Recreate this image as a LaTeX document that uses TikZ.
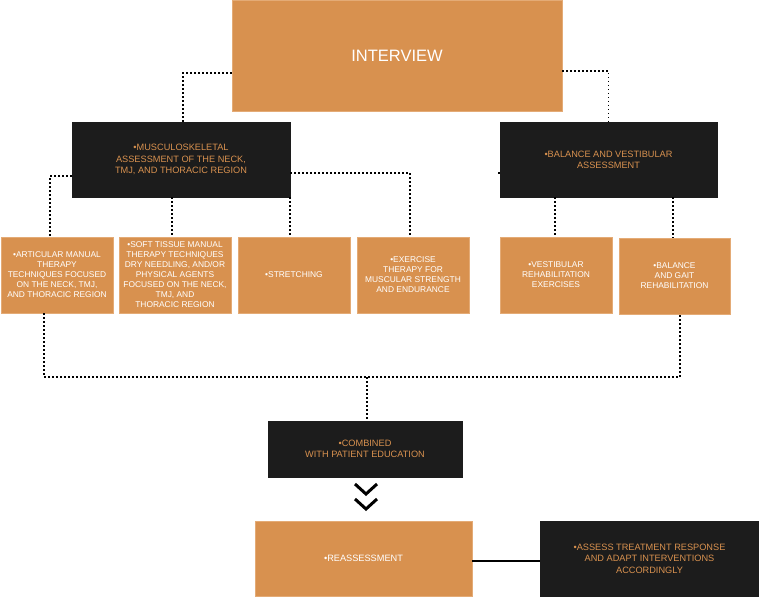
\documentclass[tikz,border=0pt]{standalone}
\usepackage{fontspec}
\setmainfont{Liberation Sans}
\definecolor{orng}{HTML}{D8914F}
\definecolor{orngline}{HTML}{E4AB76}
\definecolor{dark}{HTML}{1C1C1C}
\tikzset{
  obox/.style={rectangle, fill=orng, draw=orngline, line width=0.6pt, text=white, align=center, inner sep=0pt},
  kbox/.style={rectangle, fill=dark, draw=dark, text=orng, align=center, inner sep=0pt},
  rowfont/.style={font=\fontsize{8.4}{10}\selectfont},
  midfont/.style={font=\fontsize{9.2}{11.5}\selectfont},
  dotline/.style={draw=black, line width=1.7pt, dash pattern=on 1.6pt off 2.4pt},
  solidline/.style={draw=black, line width=1.8pt},
  chevron/.style={draw=black, line width=3pt, miter limit=10},
}
\begin{document}
\begin{tikzpicture}[x=1pt, y=-1pt]
\useasboundingbox (0,0) rectangle (759,597);
% top
\node[obox, minimum width=330pt, minimum height=111pt, font=\fontsize{16.5}{18}\selectfont] (interview) at (397,55.5) {INTERVIEW};
% assessments
\node[kbox, midfont, minimum width=218pt, minimum height=75pt] (musc) at (181,159.5) {•MUSCULOSKELETAL\\ASSESSMENT OF THE NECK,\\TMJ, AND THORACIC REGION};
\node[kbox, midfont, minimum width=217pt, minimum height=75pt, font=\fontsize{9.2}{10.7}\selectfont] (bal) at (608.5,159.5) {•BALANCE AND VESTIBULAR\\ASSESSMENT};
% interventions row
\node[obox, rowfont, minimum width=112pt, minimum height=76pt] (art) at (57,275) {\raisebox{-3pt}{\shortstack{}}•ARTICULAR MANUAL\\THERAPY\\TECHNIQUES FOCUSED\\ON THE NECK, TMJ,\\AND THORACIC REGION};
\node[obox, rowfont, minimum width=112pt, minimum height=76pt] (soft) at (175,275) {•SOFT TISSUE MANUAL\\THERAPY TECHNIQUES\\DRY NEEDLING, AND/OR\\PHYSICAL AGENTS\\FOCUSED ON THE NECK,\\TMJ, AND\\THORACIC REGION};
\node[obox, rowfont, minimum width=112pt, minimum height=76pt] (str) at (294,275) {•STRETCHING};
\node[obox, rowfont, minimum width=112pt, minimum height=76pt] (exe) at (413,275) {•EXERCISE\\THERAPY FOR\\MUSCULAR STRENGTH\\AND ENDURANCE};
\node[obox, rowfont, minimum width=112pt, minimum height=76pt] (ves) at (556,275) {•VESTIBULAR\\REHABILITATION\\EXERCISES};
\node[obox, rowfont, minimum width=111pt, minimum height=76pt] (gait) at (674.5,276) {•BALANCE\\AND GAIT\\REHABILITATION};
% bottom
\node[kbox, font=\fontsize{9.2}{11}\selectfont, minimum width=194pt, minimum height=56pt] (comb) at (365,449) {•COMBINED\\WITH PATIENT EDUCATION};
\node[obox, font=\fontsize{9.2}{11}\selectfont, minimum width=217pt, minimum height=75pt] (reas) at (363.5,558.5) {•REASSESSMENT};
\node[kbox, midfont, minimum width=219pt, minimum height=75pt] (asse) at (649.5,558.5) {•ASSESS TREATMENT RESPONSE\\AND ADAPT INTERVENTIONS\\ACCORDINGLY};
% junction coordinates
\coordinate (j1) at (44,377);
\coordinate (j2) at (680,377);
\coordinate (jm) at (367,377);
\coordinate (stub) at (496,173);
% dotted connectors
\draw[dotline] (interview.west |- 0,73) -| (musc.north -| 183,0);
\draw[dotline] (interview.east |- 0,71) -| (bal.north);
\draw[dotline] (musc.west |- 0,176) -| (art.north -| 50,0);
\draw[dotline] (musc.south -| 172,0) -- (soft.north -| 172,0);
\draw[dotline] (musc.south -| 290,0) -- (str.north -| 290,0);
\draw[dotline] (musc.east |- 0,173) -| (exe.north -| 410,0);
\draw[dotline] (bal.west |- 0,173) -- (stub);
\draw[dotline] (bal.south -| 555,0) -- (ves.north -| 555,0);
\draw[dotline] (bal.south -| 673,0) -- (gait.north -| 673,0);
\draw[dotline] (art.south -| 44,0) -- (j1) -- (j2) -- (gait.south -| 680,0);
\draw[dotline] (jm) -- (comb.north -| 367,0);
% chevrons
\draw[chevron] (355,484) -- (366,494) -- (377,484);
\draw[chevron] (355,499) -- (366,509) -- (377,499);
% solid connector
\draw[solidline] (reas.east |- 0,561) -- (asse.west |- 0,561);
\end{tikzpicture}
\end{document}
